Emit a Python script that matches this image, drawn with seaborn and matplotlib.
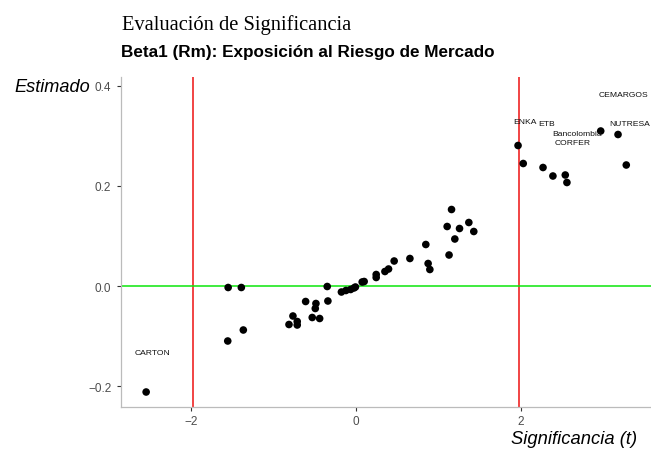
import matplotlib
matplotlib.use("Agg")
import matplotlib.pyplot as plt
import seaborn as sns
import pandas as pd

# t-statistic (x) and estimated beta (y) per stock
t_vals = [-2.545, -1.55, -1.39, -1.555, -1.366,
          -0.812, -0.764, -0.712, -0.712, -0.61, -0.53, -0.485, -0.493, -0.44,
          -0.348, -0.34, -0.176, -0.121, -0.064, -0.024, -0.006, 0.076, 0.10,
          0.246, 0.246, 0.352, 0.396, 0.464, 0.655, 0.848, 0.876, 0.897,
          1.13, 1.107, 1.16, 1.20, 1.257, 1.37, 1.43,
          1.967, 2.03, 2.27, 2.39, 2.54, 2.56, 2.97, 3.18, 3.28]
beta_vals = [-0.212, -0.003, -0.003, -0.110, -0.088,
             -0.077, -0.060, -0.071, -0.078, -0.031, -0.063, -0.035, -0.045, -0.065,
             -0.001, -0.030, -0.012, -0.009, -0.007, -0.004, -0.002, 0.008, 0.009,
             0.017, 0.023, 0.029, 0.034, 0.050, 0.055, 0.083, 0.045, 0.033,
             0.062, 0.119, 0.153, 0.094, 0.115, 0.127, 0.109,
             0.281, 0.245, 0.237, 0.220, 0.222, 0.207, 0.310, 0.303, 0.242]

label_names = ["CARTON", "CEMARGOS", "ENKA", "ETB", "Bancolombia", "CORFER", "NUTRESA"]
label_t = [-2.47, 3.25, 2.05, 2.31, 2.68, 2.63, 3.32]
label_beta = [-0.133, 0.382, 0.329, 0.325, 0.304, 0.287, 0.324]

crit_t = [-1.975, 1.975]
x_ticks = [-2, 0, 2]
y_ticks = [-0.2, 0.0, 0.2, 0.4]

df = pd.DataFrame({"t": t_vals, "beta": beta_vals})

sns.set_style("white")
plt.rcParams["font.family"] = ["Liberation Sans", "DejaVu Sans"]
plt.rcParams["text.color"] = "black"

fig = plt.figure(figsize=(6.51, 4.56), dpi=100)
ax = fig.add_axes([121/651, 1-408/456, 1-121/651, (408-78)/456])

for xv in crit_t:
    ax.axvline(xv, color="#ee1111", lw=1.1, zorder=1)
ax.axhline(0, color="#0be60b", lw=1.1, zorder=1)

sns.scatterplot(data=df, x="t", y="beta", ax=ax, color="black", s=30,
                edgecolor="none", zorder=3)

for n, xv, yv in zip(label_names, label_t, label_beta):
    ax.text(xv, yv, n, fontsize=6.1, ha="center", va="center", color="#111111",
            clip_on=True)

ax.set_xlim(-2.85, 3.58)
ax.set_ylim(-0.242, 0.418)
ax.set_xticks(x_ticks)
ax.set_yticks(y_ticks)
ax.set_xticklabels([f"{v:g}".replace("-", "\u2212") for v in x_ticks])
ax.set_yticklabels([f"{v:.1f}".replace("-", "\u2212") for v in y_ticks])
ax.tick_params(axis="both", which="major", length=3, width=0.8, color="#333333",
               labelcolor="#4d4d4d", labelsize=8.5, bottom=True, left=True)
ax.tick_params(axis="y", pad=4)
ax.tick_params(axis="x", pad=3)
for s in ["top", "right"]:
    ax.spines[s].set_visible(False)
for s in ["left", "bottom"]:
    ax.spines[s].set_color("#bbbbbb")
    ax.spines[s].set_linewidth(0.9)
ax.set_xlabel("")
ax.set_ylabel("")

fig.text(90/651, 1-88/456, "Estimado", fontsize=13.1, style="italic",
         ha="right", va="center", color="black")
fig.text(637/651, 1-440/456, "Significancia (t)", fontsize=13.2, style="italic",
         ha="right", va="center", color="black")
fig.text(122/651, 1-30/456, "Evaluación de Significancia", fontsize=14.8,
         family=["Liberation Serif", "DejaVu Serif"], ha="left", va="baseline",
         color="black")
fig.text(121/651, 1-57/456, "Beta1 (Rm): Exposición al Riesgo de Mercado",
         fontsize=12.3, weight="bold", ha="left", va="baseline", color="black")

fig.savefig("out.png", dpi=100)
